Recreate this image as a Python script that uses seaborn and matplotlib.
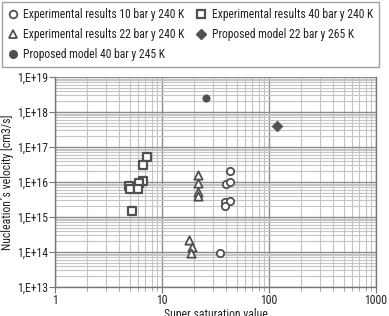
import matplotlib
matplotlib.use("Agg")
import matplotlib.pyplot as plt
import seaborn as sns
import numpy as np
from matplotlib import font_manager
from matplotlib.ticker import LogLocator, FixedLocator, NullFormatter
from matplotlib.lines import Line2D

# ---- data ----
s10_x = [43.0, 40.0, 43.5, 39.0, 43.5, 39.0, 35.0]
s10_y = [2.0e16, 9.0e15, 1.0e16, 2.7e15, 2.8e15, 2.0e15, 9.5e13]

s22_x = [21.8, 21.8, 21.7, 21.7, 17.9, 19.2, 18.7]
s22_y = [1.55e16, 9.5e15, 5.2e15, 4.1e15, 2.2e14, 1.4e14, 9.5e13]

s40_x = [7.3, 6.7, 6.7, 6.1, 4.9, 5.0, 6.0, 5.2]
s40_y = [5.1e16, 3.1e16, 1.05e16, 9.5e15, 7.5e15, 6.2e15, 6.3e15, 1.5e15]

m40_x = [25.8]
m40_y = [2.45e18]

m22_x = [119.0]
m22_y = [4.0e17]

xticks = [1, 10, 100, 1000]
xtick_labels = ["1", "10", "100", "1000"]
yticks = [1e13, 1e14, 1e15, 1e16, 1e17, 1e18, 1e19]
ytick_labels = ["1,E+13", "1,E+14", "1,E+15", "1,E+16", "1,E+17", "1,E+18", "1,E+19"]

leg_labels = [
    "Experimental results 10 bar y 240 K",
    "Experimental results 22 bar y 240 K",
    "Proposed model 40 bar y 245 K",
    "Experimental results 40 bar y 240 K",
    "Proposed model 22 bar y 265 K",
]

sns.set_theme(style="white")

# pick a narrow font if one is installed
fonts = font_manager.fontManager.ttflist
names = {f.name for f in fonts}
family = None
stretch = "normal"
for cand in ["Liberation Sans Narrow", "DejaVu Sans Condensed", "Roboto Condensed", "Open Sans Condensed"]:
    if cand in names:
        family = cand
        break
if family is None:
    for cand in ["Noto Sans", "Open Sans", "DejaVu Sans"]:
        if any(f.name == cand and str(f.stretch) in ("condensed", "semi-condensed") for f in fonts):
            family = cand
            stretch = "condensed"
            break
if family is None:
    family = "Roboto"
    fs = 7.0
else:
    fs = 8.0

plt.rcParams['font.family'] = [family, 'DejaVu Sans']
plt.rcParams['font.stretch'] = stretch

fig = plt.figure(figsize=(3.89, 3.16), dpi=100)
ax = fig.add_axes([0.1414, 0.0918, 0.9666 - 0.1414, 0.7563 - 0.0918])

dark = "#505050"
common = dict(ax=ax, legend=False, zorder=5)
sns.scatterplot(x=s10_x, y=s10_y, marker="o", s=28, facecolor="white", edgecolor=dark, linewidth=1.3, **common)
sns.scatterplot(x=s22_x, y=s22_y, marker="^", s=36, facecolor="white", edgecolor=dark, linewidth=1.3, **common)
sns.scatterplot(x=m40_x, y=m40_y, marker="o", s=28, color=dark, edgecolor=dark, linewidth=0.5, **common)
sns.scatterplot(x=s40_x, y=s40_y, marker="s", s=38, facecolor="white", edgecolor=dark, linewidth=1.6, **common)
sns.scatterplot(x=m22_x, y=m22_y, marker="D", s=30, color=dark, edgecolor=dark, linewidth=0.5, **common)

ax.set_xscale("log")
ax.set_yscale("log")
ax.set_xlim(1, 1000)
ax.set_ylim(1e13, 1e19)

ax.xaxis.set_major_locator(FixedLocator(xticks))
ax.set_xticklabels(xtick_labels)
ax.yaxis.set_major_locator(FixedLocator(yticks))
ax.set_yticklabels(ytick_labels)
ax.xaxis.set_minor_locator(LogLocator(base=10, subs=np.arange(2, 10)))
ax.yaxis.set_minor_locator(LogLocator(base=10, subs=np.arange(2, 10)))
ax.xaxis.set_minor_formatter(NullFormatter())
ax.yaxis.set_minor_formatter(NullFormatter())

ax.grid(which="major", color="#8c8c8c", linewidth=1.0)
ax.grid(which="minor", color="#c4c4c4", linewidth=0.8)
ax.set_axisbelow(True)

for side in ["left", "bottom", "right"]:
    ax.spines[side].set_color("#777777")
    ax.spines[side].set_linewidth(1.0)
ax.spines["top"].set_visible(False)

ax.tick_params(axis="both", which="major", length=4, width=0.8, color="#777777",
               labelsize=fs + 0.5, labelcolor="#222222", pad=1, bottom=True, left=True)
ax.tick_params(axis="x", which="minor", length=3, width=0.6, color="#999999", bottom=True)
ax.tick_params(axis="y", which="minor", length=0, left=False)

ax.set_xlabel("Super saturation value", fontsize=fs + 0.5, color="#222222", labelpad=1)
ax.set_ylabel("Nucleation´s velocity [cm3/s]", fontsize=fs + 0.5, color="#222222", labelpad=2)

handles = [
    Line2D([], [], marker="o", linestyle="none", markersize=5.5, markerfacecolor="white", markeredgecolor=dark, markeredgewidth=1.3),
    Line2D([], [], marker="^", linestyle="none", markersize=6, markerfacecolor="white", markeredgecolor=dark, markeredgewidth=1.3),
    Line2D([], [], marker="o", linestyle="none", markersize=5.5, markerfacecolor=dark, markeredgecolor=dark),
    Line2D([], [], marker="s", linestyle="none", markersize=6, markerfacecolor="white", markeredgecolor=dark, markeredgewidth=1.6),
    Line2D([], [], marker="D", linestyle="none", markersize=5, markerfacecolor=dark, markeredgecolor=dark),
]
leg = fig.legend(handles, leg_labels, ncol=2, loc="upper left",
                 bbox_to_anchor=(0.006, 0.993),
                 bbox_transform=fig.transFigure,
                 fontsize=fs + 0.4, frameon=True, fancybox=False, edgecolor="#888888",
                 handlelength=0.8, handletextpad=0.5, columnspacing=1.0,
                 labelspacing=0.6, borderpad=0.5, borderaxespad=0)
leg.get_frame().set_linewidth(1.0)
for t in leg.get_texts():
    t.set_color("#222222")

fig.savefig("out.png", dpi=100)
